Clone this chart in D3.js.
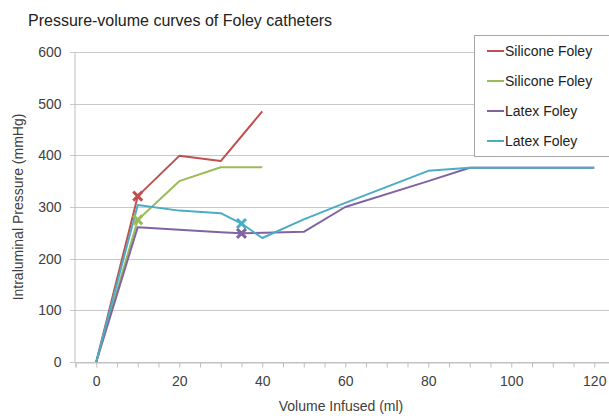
<!DOCTYPE html>
<html>
<head>
<meta charset="utf-8">
<script src="https://cdn.jsdelivr.net/npm/d3@7"></script>
<style>
  body { margin: 0; background: #fff; }
  text { font-family: "Liberation Sans", Arial, sans-serif; fill: #404040; }
</style>
</head>
<body>
<div id="chart"></div>
<script>
// series data: [volume ml, pressure mmHg]
var siliconeA = [[0, 0], [10, 321], [20, 399], [30, 389], [40, 485]];
var siliconeB = [[0, 0], [10, 275], [20, 350], [30, 377], [40, 377]];
var latexA = [[0, 0], [10, 261], [20, 256], [30, 251], [35, 249], [50, 252], [60, 300], [80, 350], [90, 376], [120, 376]];
var latexB = [[0, 0], [10, 304], [20, 293], [30, 288], [35, 268], [40, 240], [50, 276], [60, 308], [80, 370], [90, 376], [120, 376]];
// points marked with a cross
var markA = [10, 321], markB = [10, 275], markC = [35, 249], markD = [35, 268];

var seriesNames = ["Silicone Foley", "Silicone Foley", "Latex Foley", "Latex Foley"];
var colors = ["#C0504D", "#9BBB59", "#8064A2", "#4BACC6"];
var yTicks = [0, 100, 200, 300, 400, 500, 600];
var xTicks = [0, 20, 40, 60, 80, 100, 120];

var series = [siliconeA, siliconeB, latexA, latexB];
var marks = [markA, markB, markC, markD];

var width = 609, height = 416;
var svg = d3.select("#chart").append("svg")
  .attr("width", width).attr("height", height);

var x = d3.scaleLinear().domain([-5, 125]).range([75.5, 615]);
var y = d3.scaleLinear().domain([0, 600]).range([362, 52]);

// title
svg.append("text")
  .attr("x", 28).attr("y", 26)
  .style("font-size", "16px")
  .style("fill", "#222")
  .text("Pressure-volume curves of Foley catheters");

// gridlines
svg.append("g")
  .selectAll("line")
  .data(yTicks)
  .enter()
  .append("line")
  .attr("x1", 70).attr("x2", width)
  .attr("y1", d => Math.round(y(d)) + 0.5)
  .attr("y2", d => Math.round(y(d)) + 0.5)
  .attr("stroke", "#c8c8c8");

// y axis
var yAxis = svg.append("g")
  .attr("transform", "translate(74.5,0)")
  .call(d3.axisLeft(y).tickValues(yTicks).tickSize(0).tickPadding(13));
yAxis.select(".domain").attr("stroke", "#bfbfbf");
yAxis.selectAll("text").style("font-size", "14px").style("fill", "#404040");

// x axis with minor ticks every 5
var xAxis = svg.append("g")
  .attr("transform", "translate(0,362.5)")
  .call(d3.axisBottom(x).tickValues(d3.range(-5, 125, 5)).tickSize(5).tickFormat(""));
xAxis.select(".domain").attr("stroke", "#bfbfbf");
xAxis.selectAll(".tick line").attr("stroke", "#bfbfbf");

var xLabels = svg.append("g")
  .attr("transform", "translate(0,362.5)")
  .call(d3.axisBottom(x).tickValues(xTicks).tickSize(0).tickPadding(14));
xLabels.select(".domain").remove();
xLabels.selectAll("text").style("font-size", "14px").style("fill", "#404040");

// axis titles
svg.append("text")
  .attr("x", 341).attr("y", 411)
  .attr("text-anchor", "middle")
  .style("font-size", "14px")
  .text("Volume Infused (ml)");

svg.append("text")
  .attr("transform", "translate(23,207) rotate(-90)")
  .attr("text-anchor", "middle")
  .style("font-size", "14px")
  .text("Intraluminal Pressure (mmHg)");

// lines
var line = d3.line().x(d => x(d[0])).y(d => y(d[1]));
svg.append("g")
  .selectAll("path")
  .data(series)
  .enter()
  .append("path")
  .attr("d", line)
  .attr("fill", "none")
  .attr("stroke", (d, i) => colors[i])
  .attr("stroke-width", 2)
  .attr("stroke-linejoin", "round");

// cross markers
var s = 4.5;
svg.append("g")
  .selectAll("path")
  .data(marks)
  .enter()
  .append("path")
  .attr("d", d => {
    var cx = x(d[0]), cy = y(d[1]);
    return "M" + (cx - s) + "," + (cy - s) + "L" + (cx + s) + "," + (cy + s) +
      "M" + (cx - s) + "," + (cy + s) + "L" + (cx + s) + "," + (cy - s);
  })
  .attr("stroke", (d, i) => colors[i])
  .attr("stroke-width", 3);

// legend
var legend = svg.append("g");
legend.append("rect")
  .attr("x", 474.5).attr("y", 35.5)
  .attr("width", 150).attr("height", 121)
  .attr("fill", "#fff")
  .attr("stroke", "#a6a6a6");

var rowY = [51, 81, 111, 141];
var items = legend.selectAll(".item")
  .data(seriesNames)
  .enter()
  .append("g");
items.append("line")
  .attr("x1", 487).attr("x2", 504)
  .attr("y1", (d, i) => rowY[i]).attr("y2", (d, i) => rowY[i])
  .attr("stroke", (d, i) => colors[i])
  .attr("stroke-width", 2);
items.append("text")
  .attr("x", 505)
  .attr("y", (d, i) => rowY[i] + 5)
  .style("font-size", "14px")
  .style("fill", "#222")
  .text(d => d);
</script>
</body>
</html>
